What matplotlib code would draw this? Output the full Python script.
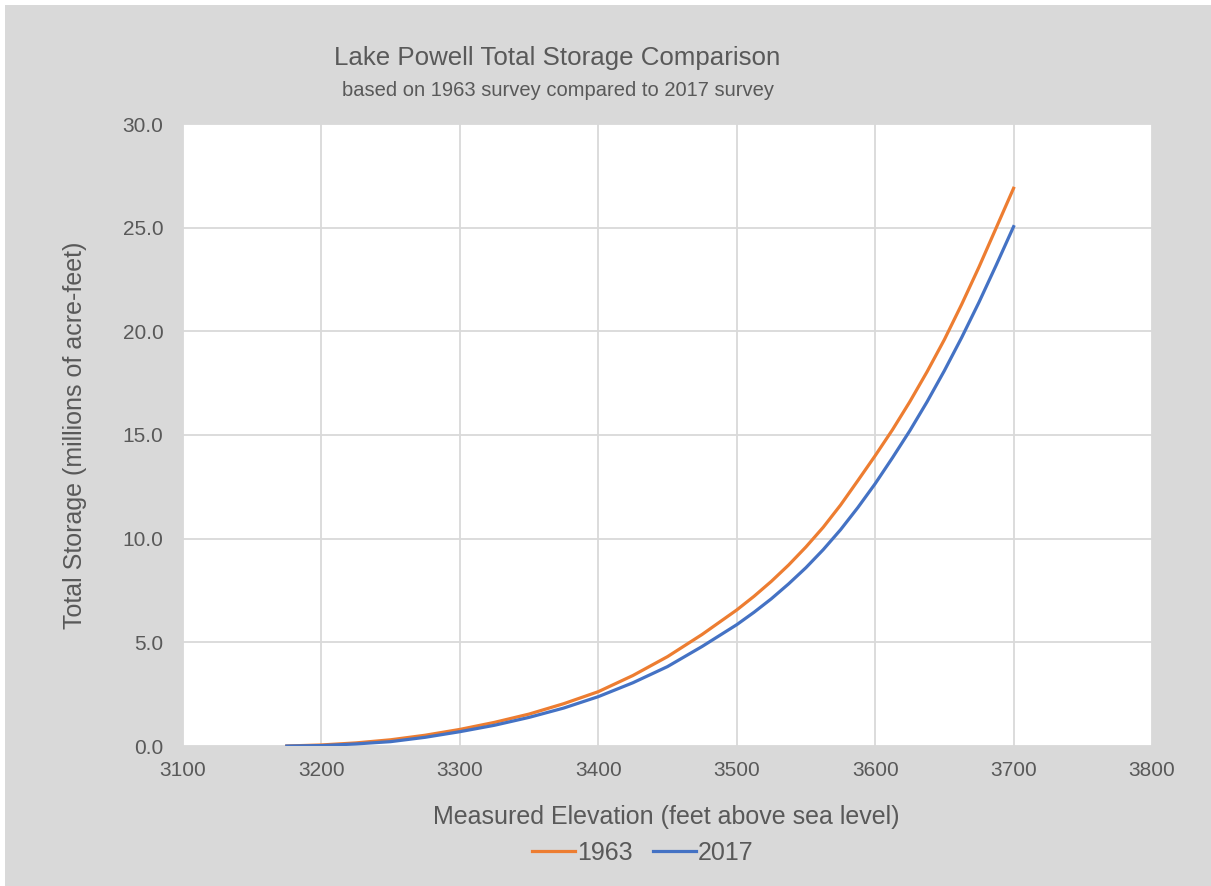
import matplotlib.pyplot as plt
from matplotlib.patches import Rectangle

# elevation (ft) vs total storage (million acre-feet)
elevation = [3175, 3200, 3225, 3250, 3275, 3300, 3325, 3350, 3375, 3400, 3425,
             3450, 3475, 3500, 3512.5, 3525, 3537.5, 3550, 3562.5, 3575, 3587.5,
             3600, 3612.5, 3625, 3637.5, 3650, 3662.5, 3675, 3687.5, 3700]
storage_1963 = [0.0, 0.05, 0.15, 0.30, 0.52, 0.80, 1.14, 1.54, 2.04, 2.62, 3.40,
                4.31, 5.38, 6.56, 7.22, 7.94, 8.73, 9.60, 10.55, 11.62, 12.80,
                14.00, 15.25, 16.60, 18.05, 19.60, 21.30, 23.10, 25.00, 26.90]
storage_2017 = [0.0, 0.02, 0.10, 0.21, 0.42, 0.69, 1.00, 1.38, 1.83, 2.38, 3.05,
                3.83, 4.80, 5.85, 6.45, 7.10, 7.82, 8.60, 9.47, 10.43, 11.50,
                12.65, 13.90, 15.20, 16.60, 18.10, 19.70, 21.40, 23.20, 25.05]

x_ticks = [3100, 3200, 3300, 3400, 3500, 3600, 3700, 3800]
y_ticks = [0, 5, 10, 15, 20, 25, 30]

plt.rcParams['font.family'] = ['Liberation Sans', 'DejaVu Sans']
TEXT = '#595959'
W, H = 1211, 886

fig = plt.figure(figsize=(W / 100, H / 100), dpi=100, facecolor='white')
fig.patches.append(Rectangle((5 / W, 0), 1 - 5 / W, 1 - 5 / H, transform=fig.transFigure,
                             facecolor='#d9d9d9', edgecolor='none', zorder=-1))

ax = fig.add_axes([183 / W, 1 - 746 / H, (1152 - 183) / W, (746 - 124) / H])
ax.set_facecolor('white')

ax.plot(elevation, storage_1963, color='#ED7D31', lw=2.3, label='1963', solid_joinstyle='round')
ax.plot(elevation, storage_2017, color='#4472C4', lw=2.3, label='2017', solid_joinstyle='round')

ax.set_xlim(3100, 3800)
ax.set_ylim(0, 30)
ax.set_xticks(x_ticks)
ax.set_yticks(y_ticks)
ax.set_yticklabels([f'{v:.1f}' for v in y_ticks])
ax.grid(True, color='#d9d9d9', lw=1.3)
ax.set_axisbelow(True)
for s in ax.spines.values():
    s.set_visible(False)
ax.tick_params(length=0, labelsize=15, labelcolor=TEXT)
ax.tick_params(axis='y', pad=14)
ax.tick_params(axis='x', pad=11)

fig.text(557 / W, 1 - 58 / H, 'Lake Powell Total Storage Comparison', ha='center', va='center',
         fontsize=18.6, color=TEXT)
fig.text(558 / W, 1 - 91 / H, 'based on 1963 survey compared to 2017 survey', ha='center', va='center',
         fontsize=14.5, color=TEXT)
fig.text(666 / W, 1 - 817 / H, 'Measured Elevation (feet above sea level)', ha='center', va='center',
         fontsize=18, color=TEXT)
fig.text(75 / W, 1 - 435 / H, 'Total Storage (millions of acre-feet)', ha='center', va='center',
         rotation=90, fontsize=18, color=TEXT)

leg = fig.legend(loc='center', bbox_to_anchor=(643 / W, 1 - 853 / H), ncol=2, frameon=False,
                 fontsize=18, handlelength=1.7, handletextpad=0.1, columnspacing=0.8)
for t in leg.get_texts():
    t.set_color(TEXT)

fig.savefig('out.png', dpi=100, facecolor=fig.get_facecolor())
